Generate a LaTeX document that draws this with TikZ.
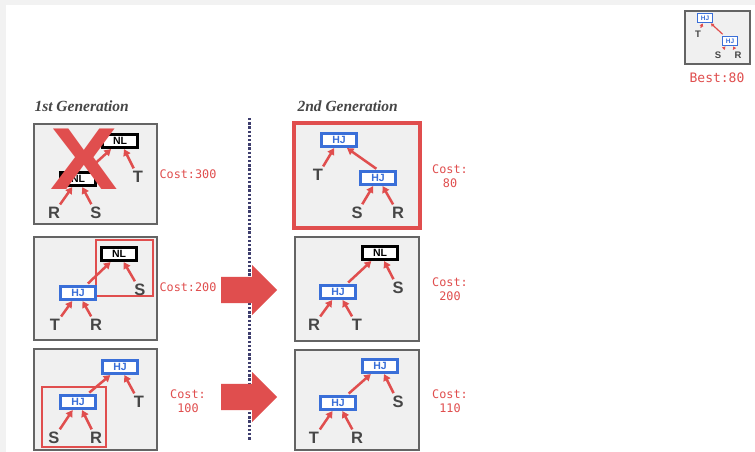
\documentclass[tikz,border=0pt]{standalone}
\usepackage{fontspec}
\setmainfont{Liberation Serif}
\setsansfont{Liberation Sans}
\setmonofont{DejaVu Sans Mono}
\usetikzlibrary{arrows.meta,shapes.arrows}
\definecolor{costred}{RGB}{224,78,78}
\definecolor{opblue}{RGB}{58,111,216}
\definecolor{planfill}{RGB}{240,240,240}
\definecolor{planrim}{RGB}{100,100,100}
\definecolor{leafgray}{RGB}{70,70,70}
\definecolor{dotnavy}{RGB}{62,62,110}
\definecolor{framegray}{RGB}{242,242,242}
\begin{document}
\begin{tikzpicture}
[x=1pt,y=-1pt,
plan/.style={draw=planrim,line width=2.8pt,fill=planfill},
pick/.style={draw=costred,line width=2.4pt},
hj/.style={draw=opblue,line width=3.2pt,fill=white,minimum width=35pt,minimum height=13pt,inner sep=0pt,text=opblue,font=\sffamily\bfseries\fontsize{10.5}{10.5}\selectfont},
nl/.style={hj,draw=black,text=black},
leaf/.style={text=leafgray,font=\sffamily\bfseries\fontsize{16.5}{16.5}\selectfont,inner sep=1pt},
edge/.style={draw=costred,line width=2.5pt,-{Triangle[length=6.5pt,width=7.5pt]},shorten <=2pt},
hjmini/.style={hj,line width=1.8pt,minimum width=15pt,minimum height=9pt,font=\sffamily\bfseries\fontsize{6.5}{6.5}\selectfont},
leafmini/.style={leaf,font=\sffamily\bfseries\fontsize{9.5}{9.5}\selectfont},
edgemini/.style={edge,line width=1.2pt,-{Triangle[length=3pt,width=3.5pt]}},
cost/.style={text=costred,font=\ttfamily\fontsize{11.8}{14}\selectfont,align=center},
gen/.style={text=leafgray,anchor=base west,font=\bfseries\itshape\fontsize{15.5}{16}\selectfont},
push/.style={single arrow,fill=costred,inner xsep=0pt,inner ysep=13pt,minimum height=56pt,single arrow head extend=12pt,anchor=tail}
]
\useasboundingbox (0,0) rectangle (755,452);
\fill[framegray] (0,0) rectangle (755,452);
\fill[white] (6,5) rectangle (755,452);

\draw[plan,line width=1.8pt] (685,11) rectangle (750,64);
\node[hjmini] (bhjt) at (705,18) {HJ};
\node[hjmini] (bhjb) at (730,41) {HJ};
\node[leafmini] (bT) at (698,34) {T};
\node[leafmini] (bS) at (718,55) {S};
\node[leafmini] (bR) at (738,55) {R};
\draw[edgemini] (bT) -- (bhjt);
\draw[edgemini] (bhjb) -- (bhjt);
\draw[edgemini] (bS) -- (bhjb);
\draw[edgemini] (bR) -- (bhjb);
\node[cost,font=\ttfamily\fontsize{13}{14}\selectfont] (best) at (717,78) {Best:80};

\node[gen] (gen1) at (31,111) {1st Generation};
\node[gen] (gen2) at (294,111) {2nd Generation};

\coordinate (cutTop) at (249,118);
\coordinate (cutBot) at (249,441);
\draw[dotnavy,line width=3pt,dash pattern=on 2.4pt off 1.8pt] (cutTop) -- (cutBot);

\draw[plan] (34,124) rectangle (157,224);
\node[nl] (anlt) at (120,141) {NL};
\node[nl] (anlb) at (78,179) {NL};
\node[leaf] (aT) at (138,177) {T};
\node[leaf] (aR) at (54,213) {R};
\node[leaf] (aS) at (96,213) {S};
\draw[edge] (anlb) -- (anlt);
\draw[edge] (aT) -- (anlt);
\draw[edge] (aR) -- (anlb);
\draw[edge] (aS) -- (anlb);
\node[text=costred,font=\sffamily\bfseries\fontsize{88}{88}\selectfont,xscale=1.15,inner sep=0pt] (cross) at (84,159) {X};
\node[cost] (ca) at (188,174) {Cost:300};

\draw[plan] (34,237) rectangle (157,340);
\draw[pick] (96,240) rectangle (153,296);
\node[nl] (bnl) at (119,254) {NL};
\node[hj] (bhj) at (78,293) {HJ};
\node[leaf] (bS) at (140,290) {S};
\node[leaf] (bT) at (55,325) {T};
\node[leaf] (bR) at (96,325) {R};
\draw[edge] (bhj) -- (bnl);
\draw[edge] (bS) -- (bnl);
\draw[edge] (bT) -- (bhj);
\draw[edge] (bR) -- (bhj);
\node[cost] (cb) at (188,287) {Cost:200};

\draw[plan] (34,349) rectangle (157,450);
\draw[pick] (42,387) rectangle (106,447);
\node[hj] (chjt) at (120,367) {HJ};
\node[hj] (chjb) at (78,402) {HJ};
\node[leaf] (cT) at (139,402) {T};
\node[leaf] (cS) at (54,438) {S};
\node[leaf] (cR) at (96,438) {R};
\draw[edge] (chjb) -- (chjt);
\draw[edge] (cT) -- (chjt);
\draw[edge] (cS) -- (chjb);
\draw[edge] (cR) -- (chjb);
\node[cost] (cc) at (188,401) {Cost:\\100};

\draw[plan,draw=costred,line width=4.8pt] (294,123) rectangle (420,228);
\node[hj] (dhjt) at (339,140) {HJ};
\node[hj] (dhjb) at (378,178) {HJ};
\node[leaf] (dT) at (318,175) {T};
\node[leaf] (dS) at (357,213) {S};
\node[leaf] (dR) at (398,213) {R};
\draw[edge] (dT) -- (dhjt);
\draw[edge] (dhjb.north) -- ([xshift=8pt]dhjt.south);
\draw[edge] (dS) -- (dhjb);
\draw[edge] (dR) -- (dhjb);
\node[cost] (cd) at (450,176) {Cost:\\80};

\draw[plan] (295,237) rectangle (419,341);
\node[nl] (enl) at (380,253) {NL};
\node[hj] (ehj) at (338,292) {HJ};
\node[leaf] (eS) at (398,288) {S};
\node[leaf] (eR) at (314,325) {R};
\node[leaf] (eT) at (357,325) {T};
\draw[edge] (ehj) -- (enl);
\draw[edge] (eS) -- (enl);
\draw[edge] (eR) -- (ehj);
\draw[edge] (eT) -- (ehj);
\node[cost] (ce) at (450,289) {Cost:\\200};

\draw[plan] (295,350) rectangle (419,450);
\node[hj] (fhjt) at (380,366) {HJ};
\node[hj] (fhjb) at (338,403) {HJ};
\node[leaf] (fS) at (398,402) {S};
\node[leaf] (fT) at (314,438) {T};
\node[leaf] (fR) at (357,438) {R};
\draw[edge] (fhjb) -- (fhjt);
\draw[edge] (fS) -- (fhjt);
\draw[edge] (fT) -- (fhjb);
\draw[edge] (fR) -- (fhjb);
\node[cost] (cf) at (450,401) {Cost:\\110};

\node[push] (pushb) at (221,290) {};
\node[push] (pushc) at (221,397) {};
\end{tikzpicture}
\end{document}
